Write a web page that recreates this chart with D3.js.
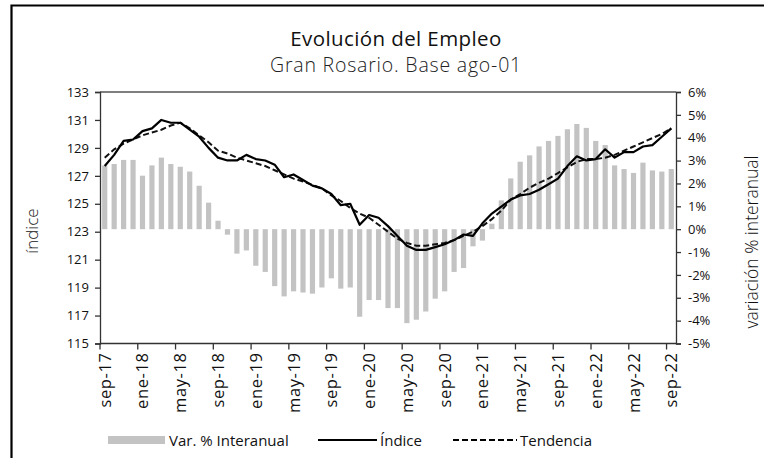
<!DOCTYPE html>
<html>
<head>
<meta charset="utf-8">
<script src="https://cdn.jsdelivr.net/npm/d3@7"></script>
<style>
  html, body { margin: 0; padding: 0; background: #fff; }
  svg { display: block; font-family: "Open Sans", "DejaVu Sans", sans-serif; }
</style>
</head>
<body>
<svg id="chart" width="764" height="458"></svg>
<script>
// Monthly categories, sep-17 to sep-22
const months = [
  "sep-17","oct-17","nov-17","dic-17","ene-18","feb-18","mar-18","abr-18","may-18","jun-18","jul-18","ago-18",
  "sep-18","oct-18","nov-18","dic-18","ene-19","feb-19","mar-19","abr-19","may-19","jun-19","jul-19","ago-19",
  "sep-19","oct-19","nov-19","dic-19","ene-20","feb-20","mar-20","abr-20","may-20","jun-20","jul-20","ago-20",
  "sep-20","oct-20","nov-20","dic-20","ene-21","feb-21","mar-21","abr-21","may-21","jun-21","jul-21","ago-21",
  "sep-21","oct-21","nov-21","dic-21","ene-22","feb-22","mar-22","abr-22","may-22","jun-22","jul-22","ago-22",
  "sep-22"
];

// Year-on-year variation (%)
const varInteranual = [
  2.79, 2.85, 3.03, 3.03, 2.34, 2.79, 3.13, 2.85, 2.73, 2.52, 1.90, 1.16,
  0.37, -0.24, -1.07, -0.93, -1.60, -1.87, -2.49, -2.94, -2.72, -2.77, -2.82, -2.55,
  -2.15, -2.60, -2.55, -3.83, -3.10, -3.10, -3.45, -3.45, -4.11, -3.96, -3.60, -3.04,
  -2.72, -1.87, -1.70, -0.75, -0.50, 0.24, 1.26, 2.22, 2.95, 3.23, 3.62, 3.86,
  4.08, 4.37, 4.60, 4.43, 3.86, 3.68, 2.79, 2.63, 2.46, 2.91, 2.57, 2.52,
  2.63
];

// Employment index (base ago-01)
const indice = [
  127.7, 128.5, 129.5, 129.6, 130.2, 130.4, 131.0, 130.8, 130.8, 130.3, 129.8, 129.0,
  128.3, 128.1, 128.1, 128.5, 128.2, 128.1, 127.8, 126.9, 127.1, 126.7, 126.3, 126.1,
  125.7, 124.9, 125.0, 123.5, 124.2, 124.0, 123.4, 122.7, 122.0, 121.7, 121.7, 121.9,
  122.1, 122.4, 122.8, 122.7, 123.6, 124.3, 124.8, 125.3, 125.6, 125.7, 126.0, 126.4,
  126.8, 127.7, 128.4, 128.1, 128.2, 128.9, 128.3, 128.7, 128.7, 129.1, 129.2, 129.8,
  130.4
];

// Trend component
const tendencia = [
  128.3, 128.9, 129.3, 129.6, 129.9, 130.1, 130.3, 130.6, 130.8, 130.4, 129.9, 129.4,
  128.8, 128.6, 128.3, 128.1, 127.9, 127.7, 127.4, 127.1, 126.8, 126.6, 126.35, 126.1,
  125.6, 125.2, 124.7, 124.3, 124.0, 123.5, 123.0, 122.5, 122.2, 122.0, 122.0, 122.1,
  122.2, 122.4, 122.7, 123.0, 123.4, 123.9, 124.5, 125.3, 125.7, 126.15, 126.5, 126.8,
  127.2, 127.6, 128.0, 128.2, 128.2, 128.3, 128.5, 128.8, 129.1, 129.4, 129.7, 130.0,
  130.4
];

const leftTicks = [115, 117, 119, 121, 123, 125, 127, 129, 131, 133];
const rightTicks = [-5, -4, -3, -2, -1, 0, 1, 2, 3, 4, 5, 6];
const xTickLabels = ["sep-17","ene-18","may-18","sep-18","ene-19","may-19","sep-19","ene-20",
                     "may-20","sep-20","ene-21","may-21","sep-21","ene-22","may-22","sep-22"];

const svg = d3.select("#chart");
const plot = { left: 100, right: 676, top: 92, bottom: 343.5 };

const x = d3.scaleBand().domain(months).range([plot.left, plot.right]).paddingInner(0.45).paddingOuter(0.225);
const step = x.step();
const cx = m => x(m) + x.bandwidth() / 2;
const yL = d3.scaleLinear().domain([115, 133]).range([plot.bottom, plot.top]);
const yR = d3.scaleLinear().domain([-5, 6]).range([plot.bottom, plot.top]);

// Outer frame (left and top edges)
svg.append("path")
  .attr("d", "M11.5,458 L11.5,5.5 L764,5.5")
  .attr("fill", "none").attr("stroke", "#000").attr("stroke-width", 2.2);

// Titles
svg.append("text").attr("x", 396).attr("y", 46).attr("text-anchor", "middle")
  .attr("font-size", 20.5).attr("letter-spacing", 0.4).attr("fill", "#111").text("Evolución del Empleo");
svg.append("text").attr("x", 396).attr("y", 72).attr("text-anchor", "middle")
  .attr("font-size", 19.5).attr("letter-spacing", 0.8).attr("font-weight", 300).attr("fill", "#222")
  .text("Gran Rosario. Base ago-01");

// Bars
svg.append("g").selectAll("rect").data(months).join("rect")
  .attr("x", d => x(d))
  .attr("width", x.bandwidth())
  .attr("y", (d, i) => Math.min(yR(varInteranual[i]), yR(0)))
  .attr("height", (d, i) => Math.abs(yR(varInteranual[i]) - yR(0)))
  .attr("fill", "#c3c3c3");

// Plot top border
svg.append("line").attr("x1", plot.left).attr("x2", plot.right)
  .attr("y1", plot.top).attr("y2", plot.top)
  .attr("stroke", "#555").attr("stroke-width", 1.5);

// Lines
const lineIdx = d3.line().x((d, i) => cx(months[i])).y(d => yL(d));
svg.append("path").datum(tendencia).attr("d", lineIdx)
  .attr("fill", "none").attr("stroke", "#111").attr("stroke-width", 2).attr("stroke-dasharray", "6,3");
svg.append("path").datum(indice).attr("d", lineIdx)
  .attr("fill", "none").attr("stroke", "#000").attr("stroke-width", 2.2).attr("stroke-linejoin", "round");

// Left axis
const gL = svg.append("g").attr("transform", `translate(${plot.left},0)`)
  .call(d3.axisLeft(yL).tickValues(leftTicks).tickSize(5).tickPadding(6).tickFormat(d3.format("d")));
// Right axis
const gR = svg.append("g").attr("transform", `translate(${plot.right},0)`)
  .call(d3.axisRight(yR).tickValues(rightTicks).tickSize(5).tickPadding(7).tickFormat(d => d + "%"));
[gL, gR].forEach(g => {
  g.select(".domain").attr("stroke", "#333").attr("stroke-width", 1.3);
  g.selectAll(".tick line").attr("stroke", "#333").attr("stroke-width", 1.3);
  g.selectAll(".tick text").attr("font-size", 13).attr("fill", "#111")
    .attr("font-family", "'Open Sans', sans-serif");
});

// Bottom axis: ticks on category boundaries every four months
const xTickIdx = xTickLabels.map(l => months.indexOf(l));
const gB = svg.append("g");
gB.append("line").attr("x1", plot.left).attr("x2", plot.right)
  .attr("y1", plot.bottom).attr("y2", plot.bottom)
  .attr("stroke", "#333").attr("stroke-width", 1.3);
gB.selectAll("line.tk").data(xTickIdx).join("line").attr("class", "tk")
  .attr("x1", i => x(months[i]) - step * 0.225).attr("x2", i => x(months[i]) - step * 0.225)
  .attr("y1", plot.bottom).attr("y2", plot.bottom + 6)
  .attr("stroke", "#333").attr("stroke-width", 1.3);
gB.selectAll("text").data(xTickIdx).join("text")
  .attr("transform", i => `translate(${cx(months[i]) + 6},${plot.bottom + 9}) rotate(-90)`)
  .attr("text-anchor", "end")
  .attr("font-size", 16.5).attr("letter-spacing", 0.6).attr("fill", "#111")
  .text(i => months[i]);

// Axis titles
svg.append("text").attr("transform", "translate(38,231) rotate(-90)").attr("text-anchor", "middle")
  .attr("font-size", 17).attr("font-weight", 300).attr("fill", "#111").text("índice");
svg.append("text").attr("transform", "translate(758,242) rotate(-90)").attr("text-anchor", "middle")
  .attr("font-size", 17.5).attr("font-weight", 300).attr("fill", "#111").text("variación % interanual");

// Legend
const lg = svg.append("g");
lg.append("rect").attr("x", 108).attr("y", 436).attr("width", 57).attr("height", 8).attr("fill", "#c3c3c3");
lg.append("text").attr("x", 169).attr("y", 445.5).attr("font-size", 15).attr("fill", "#111").text("Var. % Interanual");
lg.append("line").attr("x1", 318).attr("x2", 377).attr("y1", 440).attr("y2", 440)
  .attr("stroke", "#000").attr("stroke-width", 2.2);
lg.append("text").attr("x", 380).attr("y", 445.5).attr("font-size", 15).attr("fill", "#111").text("Índice");
lg.append("line").attr("x1", 453).attr("x2", 517).attr("y1", 440).attr("y2", 440)
  .attr("stroke", "#000").attr("stroke-width", 2).attr("stroke-dasharray", "6,3");
lg.append("text").attr("x", 520).attr("y", 445.5).attr("font-size", 15).attr("fill", "#111").text("Tendencia");
</script>
</body>
</html>
